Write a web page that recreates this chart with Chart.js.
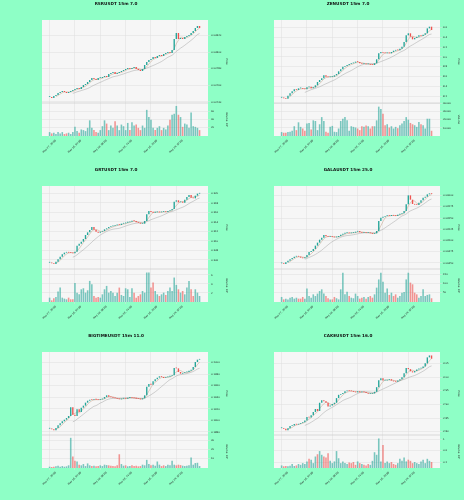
<!DOCTYPE html>
<html>
<head>
<meta charset="utf-8">
<script src="https://cdn.jsdelivr.net/npm/chart.js@4.4.1/dist/chart.umd.min.js"></script>
<style>
  html, body { margin: 0; padding: 0; background: #8effc6; }
  #wrap { position: relative; width: 464px; height: 500px; }
  .cell { position: absolute; width: 232px; height: 166px; }
</style>
</head>
<body>
<div id="wrap">
  <div class="cell" style="left:0;top:0"><canvas id="c0" width="232" height="166"></canvas></div>
  <div class="cell" style="left:232px;top:0"><canvas id="c1" width="232" height="166"></canvas></div>
  <div class="cell" style="left:0;top:166px"><canvas id="c2" width="232" height="166"></canvas></div>
  <div class="cell" style="left:232px;top:166px"><canvas id="c3" width="232" height="166"></canvas></div>
  <div class="cell" style="left:0;top:332px"><canvas id="c4" width="232" height="166"></canvas></div>
  <div class="cell" style="left:232px;top:332px"><canvas id="c5" width="232" height="166"></canvas></div>
</div>
<script>
// candle index of each time label (30 min per candle)
const xTickIndex = [0, 12, 24, 36, 48, 60];
const xTickLabels = ["May 27, 20:00", "May 28, 02:00", "May 28, 08:00", "May 28, 14:00", "May 28, 20:00", "May 29, 02:00"];

// RSRUSDT
const rsrClose = [0.00746, 0.007448, 0.007472, 0.007484, 0.007508, 0.00752, 0.007532, 0.00752, 0.007508, 0.00752,
  0.007532, 0.007544, 0.007556, 0.007568, 0.007556, 0.00758, 0.007604, 0.007616, 0.00764, 0.007664,
  0.007688, 0.007676, 0.007664, 0.007688, 0.007688, 0.0077, 0.007712, 0.0077, 0.007736, 0.007748,
  0.00776, 0.007736, 0.007748, 0.00776, 0.007772, 0.007784, 0.007796, 0.007808, 0.007796, 0.007808,
  0.00782, 0.007796, 0.007784, 0.007772, 0.007796, 0.007844, 0.00788, 0.007904, 0.007916, 0.00794,
  0.007928, 0.007952, 0.007964, 0.007952, 0.007976, 0.007988, 0.008, 0.007988, 0.008024, 0.008156,
  0.008228, 0.008156, 0.008168, 0.008156, 0.00818, 0.008192, 0.008204, 0.008228, 0.008252, 0.008288,
  0.008312, 0.008288];
const rsrVolume = [9.6, 6.4, 8, 4.8, 9.6, 6.4, 9.6, 4.8, 6.4, 8,
  4.8, 9.6, 22.4, 12, 8, 16, 14.4, 12, 20, 38.4,
  20, 14.4, 9.6, 8, 14.4, 24, 38.4, 30.4, 14.4, 25.6,
  20, 36, 25.6, 14.4, 28, 24, 14.4, 32, 14.4, 33.6,
  25.6, 28, 20, 14.4, 25.6, 20, 64, 46.4, 40, 20,
  14.4, 20, 24, 14.4, 20, 16, 25.6, 40, 52, 54.4,
  73.6, 52, 46.4, 22.4, 30.4, 28, 20, 57.6, 24, 22.4,
  20, 14.4];
const rsrPriceTicks = [0.0074, 0.0076, 0.0078, 0.0080, 0.0082];
const rsrVolumeTicks = [20, 40, 60];

// ZENUSDT
const zenClose = [8.166, 8.152, 8.145, 8.207, 8.255, 8.296, 8.337, 8.323, 8.357, 8.364,
  8.35, 8.337, 8.378, 8.391, 8.357, 8.378, 8.419, 8.487, 8.528, 8.562,
  8.624, 8.596, 8.583, 8.59, 8.596, 8.624, 8.651, 8.706, 8.747, 8.801,
  8.815, 8.835, 8.856, 8.87, 8.883, 8.904, 8.897, 8.87, 8.856, 8.863,
  8.849, 8.856, 8.842, 8.835, 8.87, 8.952, 9.075, 9.102, 9.088, 9.075,
  9.081, 9.075, 9.102, 9.129, 9.143, 9.136, 9.17, 9.211, 9.307, 9.444,
  9.485, 9.416, 9.362, 9.389, 9.416, 9.444, 9.43, 9.457, 9.485, 9.587,
  9.621, 9.553];
const zenVolume = [4800, 4000, 4000, 4800, 5200, 6400, 12000, 7200, 16800, 11200,
  9200, 6400, 15200, 16000, 8000, 19200, 18400, 7200, 14400, 23200,
  18400, 5200, 4000, 11200, 12400, 5200, 4800, 9200, 18400, 21200,
  23200, 19200, 6400, 12000, 11200, 10400, 9200, 7200, 12000, 11200,
  12800, 12000, 9200, 12000, 12000, 19200, 36000, 33200, 27200, 13200,
  14400, 10400, 12000, 9200, 11200, 9600, 13200, 15200, 18400, 23200,
  20000, 16000, 14400, 13200, 11200, 17200, 14400, 13200, 9200, 21200,
  21200, 6400];
const zenPriceTicks = [8.2, 8.4, 8.6, 8.8, 9.0, 9.2, 9.4, 9.6];
const zenVolumeTicks = [10000, 20000, 30000, 40000];

// GRTUSDT
const grtClose = [0.30544, 0.3053, 0.30516, 0.30565, 0.30614, 0.3067, 0.30719, 0.30754, 0.30761, 0.30754,
  0.30747, 0.3074, 0.30775, 0.30901, 0.30943, 0.30985, 0.31041, 0.31125, 0.31181, 0.3123,
  0.31293, 0.31237, 0.31195, 0.31174, 0.31195, 0.31209, 0.31244, 0.31265, 0.31293, 0.31307,
  0.31314, 0.31328, 0.31342, 0.31335, 0.31363, 0.3137, 0.31384, 0.31391, 0.31405, 0.31426,
  0.31419, 0.31391, 0.31377, 0.31363, 0.31363, 0.31419, 0.31559, 0.31629, 0.31608, 0.31594,
  0.31601, 0.31615, 0.31601, 0.31608, 0.31615, 0.31608, 0.31629, 0.31643, 0.31671, 0.31825,
  0.31853, 0.31811, 0.31825, 0.31804, 0.31867, 0.31923, 0.31965, 0.31909, 0.31895, 0.31951,
  0.31993, 0.32007];
const grtVolume = [0.96, 0.37, 0.81, 1.11, 2.3, 3.19, 0.96, 0.74, 0.59, 0.96,
  0.59, 0.59, 4.22, 2.07, 1.7, 2.81, 3.04, 2.07, 2.59, 4.67,
  3.93, 1.33, 0.96, 1.11, 0.96, 1.7, 2.81, 3.56, 2.07, 2.44,
  2.07, 1.33, 2.07, 3.19, 1.56, 1.33, 3.04, 2.81, 1.11, 3.04,
  2.07, 0.96, 1.33, 1.7, 2.44, 2.07, 6.52, 6.52, 3.19, 4.3,
  2.44, 1.7, 1.33, 1.7, 2.07, 1.56, 2.44, 3.19, 2.44, 5.41,
  3.78, 2.81, 2.07, 2.44, 1.7, 3.19, 4.67, 2.81, 1.33, 2.81,
  2.07, 1.33];
const grtPriceTicks = [0.306, 0.308, 0.310, 0.312, 0.314, 0.316, 0.318, 0.320];
const grtVolumeTicks = [2, 4, 6];

// GALAUSDT
const galaClose = [0.044493, 0.044478, 0.044515, 0.044552, 0.044582, 0.044611, 0.044641, 0.044656, 0.044641, 0.044619,
  0.044604, 0.044626, 0.044678, 0.044745, 0.044767, 0.044812, 0.044886, 0.044953, 0.045019, 0.045064,
  0.045123, 0.045093, 0.045079, 0.045086, 0.045079, 0.045071, 0.045079, 0.045101, 0.045131, 0.045153,
  0.045168, 0.045175, 0.04516, 0.045168, 0.045175, 0.045197, 0.045212, 0.045182, 0.045168, 0.045175,
  0.045168, 0.045175, 0.04516, 0.045145, 0.04516, 0.045212, 0.045435, 0.045509, 0.045531, 0.045546,
  0.045561, 0.045546, 0.045568, 0.045553, 0.045546, 0.045576, 0.04559, 0.045605, 0.045657, 0.045806,
  0.046006, 0.045909, 0.045813, 0.045798, 0.045791, 0.045843, 0.045895, 0.045954, 0.045976, 0.046028,
  0.04605, 0.046035];
const galaVolume = [27, 14, 18, 14, 23, 27, 18, 23, 18, 18,
  27, 18, 73, 32, 23, 41, 32, 45, 59, 68,
  45, 32, 20, 14, 14, 27, 20, 14, 68, 157,
  41, 55, 32, 23, 20, 45, 32, 18, 23, 27,
  18, 27, 32, 23, 41, 77, 121, 157, 109, 50,
  73, 38, 50, 32, 41, 23, 32, 50, 54, 121,
  157, 104, 95, 50, 41, 23, 32, 68, 32, 38,
  41, 20];
const galaPriceTicks = [0.0445, 0.04475, 0.045, 0.04525, 0.0455, 0.04575, 0.046];
const galaVolumeTicks = [50, 100, 150];

// BIGTIMEUSDT
const bigtimeClose = [0.18858, 0.18846, 0.18829, 0.18869, 0.18915, 0.1895, 0.18985, 0.19013, 0.19042, 0.19077,
  0.19227, 0.191, 0.19077, 0.19192, 0.19146, 0.19221, 0.19256, 0.19308, 0.19342, 0.1936,
  0.19354, 0.19365, 0.1936, 0.19354, 0.19365, 0.19377, 0.19406, 0.19435, 0.19412, 0.194,
  0.19389, 0.19383, 0.19371, 0.19365, 0.19377, 0.19389, 0.19377, 0.19389, 0.19406, 0.19394,
  0.19383, 0.19377, 0.19371, 0.19365, 0.19383, 0.19435, 0.19585, 0.19631, 0.1962, 0.19677,
  0.19712, 0.19741, 0.19764, 0.19752, 0.19735, 0.19746, 0.19758, 0.19769, 0.19781, 0.19908,
  0.19902, 0.19839, 0.1981, 0.19821, 0.19833, 0.19839, 0.19862, 0.19879, 0.19925, 0.20012,
  0.20052, 0.20058];
const bigtimeVolume = [1.4, 1.1, 1.4, 1.8, 2.5, 1.4, 2.1, 1.4, 1.8, 2.9,
  32.9, 12.5, 7.9, 7.1, 3.6, 2.9, 4.3, 2.1, 5.0, 2.9,
  2.1, 2.5, 1.8, 2.1, 2.9, 2.1, 3.6, 3.2, 2.9, 2.5,
  2.1, 1.8, 2.9, 15.0, 4.3, 2.5, 2.9, 1.8, 2.1, 2.9,
  2.1, 2.5, 1.8, 2.1, 3.6, 2.9, 8.9, 4.3, 2.9, 3.6,
  2.5, 7.1, 3.6, 2.1, 2.9, 2.1, 3.6, 2.9, 7.9, 3.6,
  2.9, 3.6, 3.2, 2.5, 2.1, 2.5, 2.9, 11.4, 3.6, 5.4,
  5.7, 2.1];
const bigtimePriceTicks = [0.188, 0.190, 0.192, 0.194, 0.196, 0.198, 0.200];
const bigtimeVolumeTicks = [10, 20, 30];

// CAKEUSDT
const cakeClose = [2.813, 2.811, 2.805, 2.813, 2.821, 2.823, 2.828, 2.826, 2.829, 2.832,
  2.835, 2.841, 2.854, 2.852, 2.86, 2.872, 2.883, 2.876, 2.906, 2.915,
  2.911, 2.906, 2.892, 2.896, 2.901, 2.906, 2.923, 2.935, 2.938, 2.942,
  2.948, 2.95, 2.949, 2.948, 2.946, 2.944, 2.948, 2.944, 2.946, 2.944,
  2.942, 2.939, 2.939, 2.94, 2.946, 2.963, 2.988, 2.996, 2.987, 2.987,
  2.989, 2.992, 2.987, 2.984, 2.983, 2.987, 2.992, 2.999, 3.014, 3.033,
  3.029, 3.021, 3.017, 3.022, 3.028, 3.031, 3.033, 3.039, 3.05, 3.072,
  3.079, 3.067];
const cakeVolume = [0.09, 0.06, 0.07, 0.06, 0.08, 0.14, 0.07, 0.09, 0.14, 0.11,
  0.17, 0.14, 0.23, 0.32, 0.29, 0.17, 0.4, 0.48, 0.59, 0.46,
  0.4, 0.37, 0.51, 0.25, 0.17, 0.23, 0.59, 0.34, 0.17, 0.23,
  0.17, 0.14, 0.19, 0.17, 0.21, 0.11, 0.23, 0.17, 0.14, 0.11,
  0.09, 0.14, 0.11, 0.25, 0.55, 0.46, 1.03, 0.23, 0.8, 0.17,
  0.23, 0.17, 0.21, 0.14, 0.11, 0.17, 0.32, 0.25, 0.37, 0.23,
  0.29, 0.25, 0.17, 0.21, 0.17, 0.14, 0.23, 0.29, 0.17, 0.32,
  0.25, 0.21];
const cakePriceTicks = [2.80, 2.85, 2.90, 2.95, 3.00, 3.05];
const cakeVolumeTicks = [0.2, 0.4, 0.6, 0.8, 1.0];

const UP = "#26a69a", DOWN = "#ef5350";
const UP_VOL = "rgba(38,166,154,0.6)", DOWN_VOL = "rgba(239,83,80,0.6)";
const FONT = "DejaVu Sans";

function movingAverage(values, n) {
  return values.map(function(v, i) {
    if (i < n - 1) return null;
    let s = 0;
    for (let k = i - n + 1; k <= i; k++) s += values[k];
    return { x: i, y: s / n };
  }).filter(p => p !== null);
}

// plot background, pane divider and title
const panelDecor = {
  id: "panelDecor",
  beforeDraw(chart) {
    const a = chart.chartArea, c = chart.ctx;
    c.save();
    c.fillStyle = "#f6f6f6";
    c.fillRect(a.left, a.top, a.right - a.left, a.bottom - a.top);
    c.restore();
  },
  afterDraw(chart, args, opts) {
    const a = chart.chartArea, c = chart.ctx;
    const yb = chart.scales.y.bottom;
    c.save();
    c.strokeStyle = "#c8c8c8";
    c.lineWidth = 0.6;
    c.beginPath();
    c.moveTo(a.left, yb);
    c.lineTo(a.right, yb);
    c.stroke();
    c.fillStyle = "#111";
    c.font = "bold 4.2px " + FONT;
    c.textAlign = "center";
    c.textBaseline = "middle";
    c.fillText(opts.title, chart.width / 2, 3.5);
    c.restore();
  }
};

function makeChart(id, title, close, volume, priceTicks, pMin, pMax, dec, volTicks, vMax, volTitle) {
  const open = close.map((c, i) => i === 0 ? c : close[i - 1]);
  const isUp = close.map((c, i) => c >= open[i]);
  const tickFont = { family: FONT, size: 2.5 };

  new Chart(document.getElementById(id), {
    data: {
      datasets: [
        {
          type: "bar", yAxisID: "y", grouped: false,
          data: close.map((c, i) => ({ x: i, y: [open[i], c] })),
          backgroundColor: isUp.map(u => u ? UP : DOWN),
          barPercentage: 0.65, categoryPercentage: 1, minBarLength: 0.8
        },
        {
          type: "line", yAxisID: "y", data: movingAverage(close, 4),
          borderColor: "rgba(190,150,120,0.75)", borderWidth: 0.6, pointRadius: 0
        },
        {
          type: "line", yAxisID: "y", data: movingAverage(close, 12),
          borderColor: "rgba(160,160,160,0.8)", borderWidth: 0.6, pointRadius: 0
        },
        {
          type: "bar", yAxisID: "yv", grouped: false,
          data: volume.map((v, i) => ({ x: i, y: v })),
          backgroundColor: isUp.map(u => u ? UP_VOL : DOWN_VOL),
          barPercentage: 0.75, categoryPercentage: 1
        }
      ]
    },
    options: {
      responsive: false,
      animation: false,
      events: [],
      layout: { padding: { left: 42, top: 20, right: 4, bottom: 0 } },
      plugins: { legend: { display: false }, tooltip: { enabled: false }, panelDecor: { title: title } },
      scales: {
        x: {
          type: "linear", min: -3.6, max: 75, offset: false,
          afterBuildTicks: s => { s.ticks = xTickIndex.map(v => ({ value: v })); },
          afterFit: s => { s.height = 30; },
          grid: { color: "#dedede", lineWidth: 0.5, tickLength: 2, offset: false },
          border: { display: false },
          ticks: {
            autoSkip: false, minRotation: 45, maxRotation: 45, font: tickFont, color: "#222",
            padding: 1, labelOffset: 6,
            callback: v => xTickLabels[xTickIndex.indexOf(v)]
          }
        },
        y: {
          position: "right", stack: "panes", stackWeight: 83,
          min: pMin, max: pMax,
          afterBuildTicks: s => { s.ticks = priceTicks.map(v => ({ value: v })); },
          afterFit: s => { s.width = 20; },
          grid: { color: "#dedede", lineWidth: 0.5, tickLength: 2 },
          border: { display: false },
          ticks: { font: tickFont, color: "#222", padding: 1, callback: v => v.toFixed(dec) },
          title: { display: true, text: "Price", font: tickFont, color: "#222", padding: 0 }
        },
        yv: {
          position: "right", stack: "panes", stackWeight: 33,
          min: 0, max: vMax,
          afterBuildTicks: s => { s.ticks = volTicks.map(v => ({ value: v })); },
          afterFit: s => { s.width = 20; },
          grid: { color: "#dedede", lineWidth: 0.5, tickLength: 2 },
          border: { display: false },
          ticks: { font: tickFont, color: "#222", padding: 1, callback: v => String(v) },
          title: { display: true, text: volTitle, font: tickFont, color: "#222", padding: 0 }
        }
      }
    },
    plugins: [panelDecor]
  });
}

makeChart("c0", "RSRUSDT 15m 7.0", rsrClose, rsrVolume, rsrPriceTicks, 0.007388, 0.008384, 5, rsrVolumeTicks, 80.8, "Volume  10\u2076");
makeChart("c1", "ZENUSDT 15m 7.0", zenClose, zenVolume, zenPriceTicks, 8.0565, 9.758, 1, zenVolumeTicks, 40500, "Volume");
makeChart("c2", "GRTUSDT 15m 7.0", grtClose, grtVolume, grtPriceTicks, 0.30411, 0.32154, 3, grtVolumeTicks, 7.3, "Volume  10\u2076");
makeChart("c3", "GALAUSDT 15m 25.0", galaClose, galaVolume, galaPriceTicks, 0.044366, 0.046214, 5, galaVolumeTicks, 177, "Volume  10\u00b3");
makeChart("c4", "BIGTIMEUSDT 15m 11.0", bigtimeClose, bigtimeVolume, bigtimePriceTicks, 0.18748, 0.20185, 4, bigtimeVolumeTicks, 36, "Volume  10\u2076");
makeChart("c5", "CAKEUSDT 15m 16.0", cakeClose, cakeVolume, cakePriceTicks, 2.788, 3.0916, 2, cakeVolumeTicks, 1.15, "Volume  10\u2076");
</script>
</body>
</html>
